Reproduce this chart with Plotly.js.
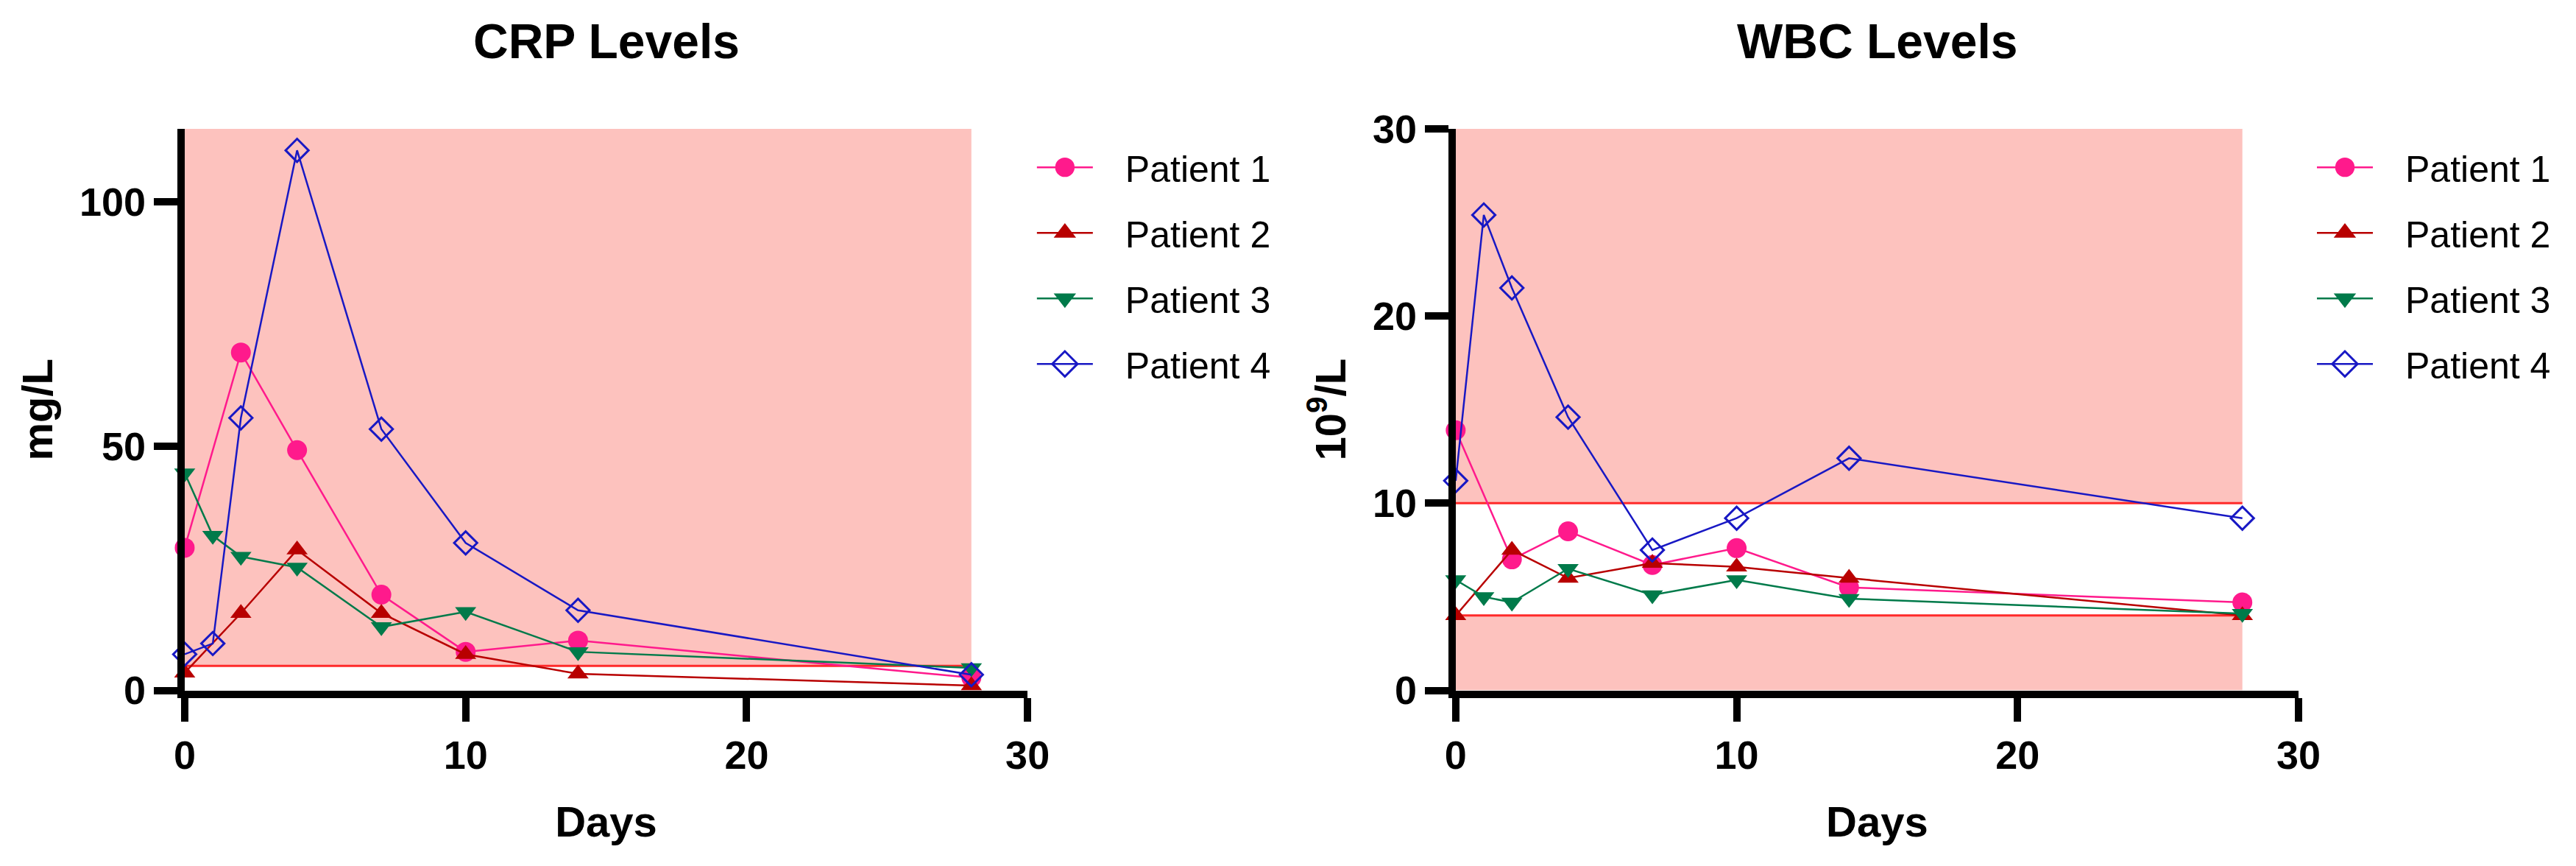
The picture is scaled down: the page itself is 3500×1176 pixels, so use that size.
<!DOCTYPE html>
<html><head><meta charset="utf-8">
<script src="https://cdn.plot.ly/plotly-3.0.1.min.js"></script>
<style>html,body{margin:0;padding:0;background:#fff}</style>
</head><body><div id="chart" style="width:3500px;height:1176px"></div>
<script>
// ---- data ----
const patients = ['Patient 1', 'Patient 2', 'Patient 3', 'Patient 4'];
const colors = ['#ff1a8c', '#b80000', '#007a4a', '#1818c4'];
const symbols = ['circle', 'triangle-up', 'triangle-down', 'diamond-open'];

const crpDaysP1 = [0, 2, 4, 7, 10, 14, 28];
const crpP1 = [29.2, 69.2, 49.2, 19.6, 7.9, 10.2, 2.6];
const crpDaysP2 = [0, 2, 4, 7, 10, 14, 28];
const crpP2 = [3.6, 15.8, 28.8, 15.8, 7.4, 3.4, 1.0];
const crpDaysP3 = [0, 1, 2, 4, 7, 10, 14, 28];
const crpP3 = [44.5, 31.7, 27.4, 25.2, 13.0, 16.1, 7.9, 4.6];
const crpDaysP4 = [0, 1, 2, 4, 7, 10, 14, 28];
const crpP4 = [7.4, 9.6, 55.8, 110.6, 53.5, 30.2, 16.4, 3.2];

const wbcDaysP1 = [0, 2, 4, 7, 10, 14, 28];
const wbcP1 = [13.9, 7.0, 8.5, 6.7, 7.6, 5.5, 4.7];
const wbcDaysP2 = [0, 2, 4, 7, 10, 14, 28];
const wbcP2 = [4.0, 7.5, 6.0, 6.8, 6.6, 6.0, 4.0];
const wbcDaysP3 = [0, 1, 2, 4, 7, 10, 14, 28];
const wbcP3 = [5.9, 5.0, 4.7, 6.5, 5.1, 5.9, 4.9, 4.1];
const wbcDaysP4 = [0, 1, 2, 4, 7, 10, 14, 28];
const wbcP4 = [11.2, 25.4, 21.5, 14.6, 7.5, 9.2, 12.4, 9.2];

const crpTicks = [0, 50, 100];
const wbcTicks = [0, 10, 20, 30];
const dayTicks = [0, 10, 20, 30];
const crpRange = [0, 115];
const wbcRange = [0, 30];
const dayRange = [0, 30];
const lastDay = 28;
const crpNormalUpper = 5;
const wbcNormal = [4, 10];

// ---- traces ----
const crpDays = [crpDaysP1, crpDaysP2, crpDaysP3, crpDaysP4];
const crpVals = [crpP1, crpP2, crpP3, crpP4];
const wbcDays = [wbcDaysP1, wbcDaysP2, wbcDaysP3, wbcDaysP4];
const wbcVals = [wbcP1, wbcP2, wbcP3, wbcP4];
const msize = [27, 25, 25, 24];

function mk(i, xs, ys, xa, ya, leg) {
  const open = symbols[i].indexOf('open') >= 0;
  return {
    type: 'scatter', mode: 'lines+markers', name: patients[i],
    x: xs, y: ys, xaxis: xa, yaxis: ya, legend: leg, legendgroup: leg + i,
    line: {color: colors[i], width: 2.5},
    marker: {symbol: symbols[i], size: msize[i], color: colors[i],
             line: {color: colors[i], width: open ? 3 : 0}},
    cliponaxis: false
  };
}
const traces = [];
for (let i = 0; i < 4; i++) traces.push(mk(i, crpDays[i], crpVals[i], 'x', 'y', 'legend'));
for (let i = 0; i < 4; i++) traces.push(mk(i, wbcDays[i], wbcVals[i], 'x2', 'y2', 'legend2'));

// ---- reference bands ----
const pink = '#fdc2be';
const redLine = '#ff2a2a';
const shapes = [
  {type: 'rect', xref: 'x', yref: 'y', x0: dayRange[0], x1: lastDay, y0: crpNormalUpper, y1: crpRange[1], fillcolor: pink, line: {width: 0}, layer: 'below'},
  {type: 'line', xref: 'x', yref: 'y', x0: dayRange[0], x1: lastDay, y0: crpNormalUpper, y1: crpNormalUpper, line: {color: redLine, width: 3}, layer: 'below'},
  {type: 'rect', xref: 'x2', yref: 'y2', x0: dayRange[0], x1: lastDay, y0: wbcRange[0], y1: wbcNormal[0], fillcolor: pink, line: {width: 0}, layer: 'below'},
  {type: 'rect', xref: 'x2', yref: 'y2', x0: dayRange[0], x1: lastDay, y0: wbcNormal[1], y1: wbcRange[1], fillcolor: pink, line: {width: 0}, layer: 'below'},
  {type: 'line', xref: 'x2', yref: 'y2', x0: dayRange[0], x1: lastDay, y0: wbcNormal[0], y1: wbcNormal[0], line: {color: redLine, width: 3}, layer: 'below'},
  {type: 'line', xref: 'x2', yref: 'y2', x0: dayRange[0], x1: lastDay, y0: wbcNormal[1], y1: wbcNormal[1], line: {color: redLine, width: 3}, layer: 'below'}
];

const F = 'Liberation Sans, Arial, sans-serif';
const tickFont = {family: F, size: 54, color: '#000', weight: 'bold'};
const axTitleFont = {family: F, size: 58, color: '#000', weight: 'bold'};

function xax(dom, anchor) {
  return {domain: dom, anchor: anchor, range: dayRange, tickvals: dayTicks,
    showline: true, linewidth: 10, linecolor: '#000', ticks: 'outside', ticklen: 32, tickwidth: 10, tickcolor: '#000',
    showgrid: false, zeroline: false, tickfont: tickFont, fixedrange: true,
    title: {text: 'Days', font: axTitleFont, standoff: 45}};
}
function yax(dom, anchor, range, ticks, title) {
  return {domain: dom, anchor: anchor, range: range, tickvals: ticks,
    showline: true, linewidth: 10, linecolor: '#000', ticks: 'outside', ticklen: 32, tickwidth: 10, tickcolor: '#000',
    showgrid: false, zeroline: false, tickfont: tickFont, fixedrange: true,
    title: {text: title, font: axTitleFont, standoff: 22}};
}

const legendBase = {font: {family: F, size: 50, color: '#000'}, bgcolor: 'rgba(0,0,0,0)',
  yanchor: 'top', xanchor: 'left', itemwidth: 115, tracegroupgap: 21, traceorder: 'grouped', itemsizing: 'trace'};

const layout = {
  width: 3500, height: 1176, margin: {l: 0, r: 0, t: 0, b: 0},
  paper_bgcolor: '#fff', plot_bgcolor: '#fff', showlegend: true,
  xaxis: xax([0.0717, 0.3989], 'y'),
  yaxis: yax([0.2028, 0.8512], 'x', crpRange, crpTicks, 'mg/L'),
  xaxis2: xax([0.5651, 0.8923], 'y2'),
  yaxis2: yax([0.2028, 0.8512], 'x2', wbcRange, wbcTicks, '10<sup>9</sup>/L'),
  legend: Object.assign({}, legendBase, {x: 0.4011, y: 0.84}),
  legend2: Object.assign({}, legendBase, {x: 0.898, y: 0.84}),
  shapes: shapes,
  annotations: [
    {text: 'CRP Levels', xref: 'paper', yref: 'paper', x: 0.2353, y: 0.952, xanchor: 'center', yanchor: 'middle', showarrow: false, font: {family: F, size: 66, color: '#000', weight: 'bold'}},
    {text: 'WBC Levels', xref: 'paper', yref: 'paper', x: 0.7287, y: 0.952, xanchor: 'center', yanchor: 'middle', showarrow: false, font: {family: F, size: 66, color: '#000', weight: 'bold'}}
  ]
};

function styleLegends() {
  const S = 1.65;
  // legend symbol: a 76px line with a full-size marker in its middle, like the reference
  document.querySelectorAll('.infolayer g.traces').forEach(function (g) {
    g.querySelectorAll('path.js-line').forEach(function (p) { p.setAttribute('d', 'M5,0h76'); });
    g.querySelectorAll('path.scatterpts').forEach(function (p) {
      p.setAttribute('transform', 'translate(43,0) scale(' + S + ')');
      const sw = parseFloat(p.style.strokeWidth || '0');
      if (sw > 0) p.style.strokeWidth = (3 / S) + 'px';
    });
  });
}

Plotly.newPlot('chart', traces, layout, {staticPlot: true, displayModeBar: false}).then(function () {
  styleLegends();
  setTimeout(styleLegends, 50);
});
</script>
</body></html>
